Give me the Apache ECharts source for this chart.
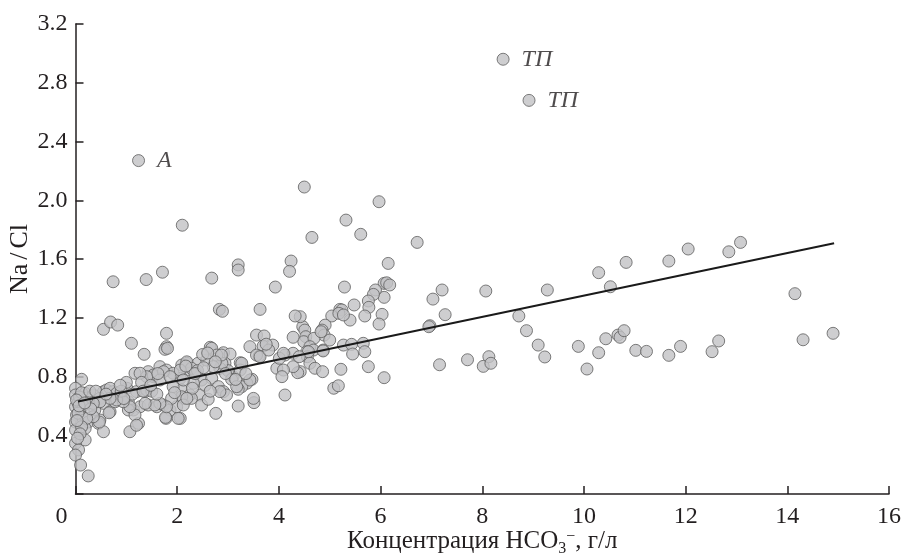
<!DOCTYPE html>
<html>
<head>
<meta charset="utf-8">
<script src="https://cdn.jsdelivr.net/npm/echarts@6/dist/echarts.min.js"></script>
<style>html,body{margin:0;padding:0;background:#fff;}#c{width:901px;height:553px;}</style>
</head>
<body>
<div id="c"></div>
<script>
// HCO3 concentration (g/L) and Na/Cl ratio for each sample
const hco3 = [
  2.10,0.74,1.39,1.71,2.68,3.20,3.20,4.50,5.97,5.32,4.65,5.61,6.72,4.24,4.21,6.15,10.29,10.83,3.93,5.29,
  6.07,6.12,6.18,6.07,5.90,5.86,5.76,5.77,5.69,6.03,5.97,7.03,7.21,7.27,8.07,9.28,10.52,6.97,6.95,8.72,
  8.87,9.10,9.23,9.89,10.06,10.29,10.43,10.67,10.71,10.79,11.02,11.23,7.16,7.71,8.02,8.13,8.17,11.67,12.05,12.85,
  13.08,14.15,14.31,14.90,11.67,11.90,12.52,12.65,
  5.48,5.20,5.24,5.04,5.18,5.40,5.27,4.91,4.85,4.89,4.47,4.51,4.53,4.49,4.69,5.00,4.42,5.27,5.43,5.66,
  5.69,5.45,4.61,4.68,4.55,4.87,4.56,4.61,4.71,4.86,4.42,5.22,5.76,6.07,5.08,5.17,4.32,4.83,4.28,4.58,
  4.87,4.37,4.28,
  3.56,3.71,3.43,3.69,3.88,3.61,2.65,2.91,3.04,3.24,3.96,4.09,4.06,4.12,4.28,3.47,3.37,3.27,3.20,4.12,
  3.51,3.20,2.76,3.63,2.83,2.89,3.56,3.63,4.01,4.09,4.40,3.43,3.50,3.10,3.24,3.27,2.94,3.00,
  2.19,2.25,2.41,2.38,2.48,2.32,2.06,2.84,2.88,2.68,2.81,2.91,2.97,3.07,3.17,2.09,2.12,2.25,2.45,2.48,
  2.61,2.06,2.09,2.19,2.28,2.58,2.68,2.71,2.78,2.87,2.84,2.28,2.09,2.30,2.55,2.65,2.40,2.50,2.60,
  0.12,0.00,0.00,1.10,1.35,1.79,1.79,1.76,1.17,1.43,1.53,1.66,1.79,1.92,2.06,2.17,0.55,0.61,0.74,1.01,
  1.20,1.37,0.19,0.35,0.29,0.48,0.55,0.68,0.78,1.04,1.14,1.27,1.43,1.60,1.73,1.86,1.99,2.12,2.19,1.07,
  1.24,1.78,2.02,1.04,1.17,0.00,0.02,0.00,0.15,0.25,0.19,0.48,0.45,0.55,0.00,0.19,0.00,0.06,0.00,0.10,
  0.25,0.55,0.69,0.83,1.81,1.77,1.20,0.66,0.38,0.47,0.35,0.22,0.12,0.68,0.81,1.40,1.53,1.73,1.66,1.86,
  1.92,2.12,1.89,1.79,1.66,1.56,1.37,1.07,0.94,0.81,0.68,0.48,0.35,0.22,1.40,1.27,0.05,0.08,0.10,0.15,
  0.05,0.12,0.30,0.03,0.09,0.04,1.50,1.60,1.30,1.00,0.90,1.95,
  0.02,0.07,0.18,0.28,0.40,0.60,0.88,1.12,1.33,1.48,1.62,0.95,2.35,2.52,2.75,2.95,3.15,3.35,3.80,3.75
];
const naCl = [
  1.83,1.445,1.46,1.51,1.47,1.56,1.525,2.09,1.99,1.865,1.747,1.768,1.713,1.586,1.516,1.570,1.507,1.577,1.409,1.409,
  1.434,1.438,1.423,1.339,1.389,1.359,1.314,1.271,1.212,1.223,1.157,1.327,1.389,1.221,1.382,1.389,1.411,1.146,1.139,1.212,
  1.112,1.014,0.933,1.005,0.851,0.962,1.057,1.082,1.067,1.112,0.978,0.971,0.880,0.914,0.869,0.935,0.890,1.586,1.668,1.649,
  1.713,1.364,1.050,1.094,0.944,1.005,0.969,1.042,
  1.287,1.257,1.253,1.212,1.230,1.184,1.219,1.150,1.116,1.082,1.139,1.116,1.071,1.037,1.060,1.048,1.207,1.014,1.019,1.026,
  0.969,0.953,1.003,0.980,0.969,0.980,0.935,0.890,0.856,0.833,0.833,0.849,0.867,0.792,0.720,0.737,1.212,1.105,1.067,0.969,
  0.974,0.826,0.867,
  1.082,1.076,1.003,1.007,1.014,0.939,0.999,0.962,0.953,0.894,0.856,0.844,0.799,0.946,0.958,0.781,0.754,0.731,0.713,0.674,
  0.622,0.599,0.549,1.257,1.257,1.244,0.946,0.935,0.924,0.958,0.935,0.776,0.651,0.799,0.844,0.890,0.890,0.840,
  0.890,0.844,0.890,0.822,0.776,0.754,0.788,0.856,0.890,0.788,0.731,0.697,0.674,0.781,0.731,0.708,0.651,0.674,0.674,0.606,
  0.645,0.515,0.878,0.900,0.856,0.912,0.992,0.867,0.946,0.946,0.697,0.651,0.662,0.720,0.740,0.700,0.840,0.950,0.960,
  0.781,0.720,0.674,1.026,0.951,1.094,1.003,0.985,0.822,0.833,0.799,0.867,0.844,0.822,0.844,0.871,0.697,0.708,0.697,0.720,
  0.697,0.697,0.686,0.674,0.640,0.651,0.617,0.560,0.628,0.628,0.572,0.594,0.606,0.594,0.606,0.572,0.594,0.606,0.651,0.424,
  0.481,0.515,0.515,0.572,0.538,0.594,0.538,0.490,0.515,0.490,0.447,0.504,0.481,0.424,0.436,0.368,0.345,0.300,0.265,0.197,
  0.123,1.121,1.171,1.150,0.992,0.522,0.468,0.553,0.572,0.490,0.526,0.515,0.458,0.720,0.686,0.708,0.810,0.833,0.776,0.799,
  0.731,0.776,0.651,0.594,0.617,0.606,0.617,0.594,0.628,0.640,0.651,0.628,0.617,0.651,0.799,0.822,0.620,0.660,0.580,0.600,
  0.550,0.690,0.580,0.500,0.410,0.380,0.700,0.680,0.760,0.760,0.700,0.690,
  0.640,0.600,0.620,0.700,0.700,0.680,0.740,0.680,0.700,0.740,0.820,0.650,0.820,0.860,0.900,0.820,0.780,0.820,0.980,1.020
];
// labelled samples
const markX = [1.24, 8.41, 8.92];
const markY = [2.27, 2.96, 2.68];
const markNames = ['A', 'ТП', 'ТП'];
// regression line end points
const fitX = [0.05, 14.92];
const fitY = [0.63, 1.707];
// axis ticks
const xTicks = [0, 2, 4, 6, 8, 10, 12, 14, 16];
const yTicks = [0.4, 0.8, 1.2, 1.6, 2.0, 2.4, 2.8, 3.2];

const FONT = '"Liberation Serif", "Times New Roman", serif';
const INK = '#231f20';

const pts = hco3.map((x, i) => [x, naCl[i]]);
const marks = markX.map((x, i) => ({ value: [x, markY[i]], name: markNames[i] }));
const fit = fitX.map((x, i) => [x, fitY[i]]);

const chart = echarts.init(document.getElementById('c'), null, { renderer: 'canvas' });
const pointStyle = { color: '#c2c2c4', borderColor: '#5e5e5e', borderWidth: 1 };
chart.setOption({
  animation: false,
  backgroundColor: '#fff',
  grid: { left: 75.5, right: 12, top: 24, bottom: 59, containLabel: false, outerBoundsMode: 'none' },
  xAxis: {
    type: 'value', min: xTicks[0], max: xTicks[xTicks.length - 1], interval: 2,
    axisLine: { lineStyle: { color: INK, width: 1.5 } },
    axisTick: { inside: true, length: 8, lineStyle: { color: INK, width: 1.5 } },
    splitLine: { show: false },
    axisLabel: {
      margin: 11, color: INK, fontFamily: FONT, fontSize: 24,
      formatter: v => v === 0 ? '{z|0}' : String(v),
      rich: { z: { fontFamily: FONT, fontSize: 24, color: INK, padding: [0, 28, 0, 0] } }
    },
    name: '{n|Концентрация HCO}{s|3}{m|\u2212}{n|, г/л}',
    nameLocation: 'middle', nameGap: 35, nameMoveOverlap: false,
    nameTextStyle: {
      color: INK, fontFamily: FONT, fontSize: 25,
      rich: {
        n: { fontFamily: FONT, fontSize: 25, color: INK, lineHeight: 28, padding: [0, 0, 2, 0], verticalAlign: 'top' },
        s: { fontFamily: FONT, fontSize: 16, color: INK, lineHeight: 15, verticalAlign: 'bottom' },
        m: { fontFamily: FONT, fontSize: 16, color: INK, lineHeight: 15, verticalAlign: 'top' }
      }
    }
  },
  yAxis: {
    type: 'value', min: 0, max: yTicks[yTicks.length - 1], interval: 0.4,
    axisLine: { lineStyle: { color: INK, width: 1.5 } },
    axisTick: { inside: true, length: 8, lineStyle: { color: INK, width: 1.5 } },
    splitLine: { show: false },
    axisLabel: {
      margin: 8, color: INK, fontFamily: FONT, fontSize: 24,
      formatter: v => yTicks.some(t => Math.abs(t - v) < 1e-6) ? v.toFixed(1) : ''
    },
    name: '{a|Na}{b|/}{a|Cl}', nameLocation: 'middle', nameGap: 42, nameMoveOverlap: false,
    nameTextStyle: {
      color: INK, fontFamily: FONT, fontSize: 26,
      rich: {
        a: { fontFamily: FONT, fontSize: 26, color: INK },
        b: { fontFamily: FONT, fontSize: 26, color: INK, padding: [0, 4, 0, 4] }
      }
    }
  },
  series: [
    {
      type: 'scatter', data: pts, symbol: 'circle', symbolSize: 12,
      itemStyle: pointStyle, z: 2
    },
    {
      type: 'scatter', data: marks, symbol: 'circle', symbolSize: 12,
      itemStyle: pointStyle, z: 2,
      label: {
        show: true, position: 'right', distance: 12, formatter: p => p.name,
        color: INK, fontFamily: FONT, fontSize: 24, fontStyle: 'italic'
      }
    },
    {
      type: 'line', data: fit, symbol: 'none', z: 3,
      lineStyle: { color: '#1a1a1a', width: 2 }
    }
  ]
});
</script>
</body>
</html>
